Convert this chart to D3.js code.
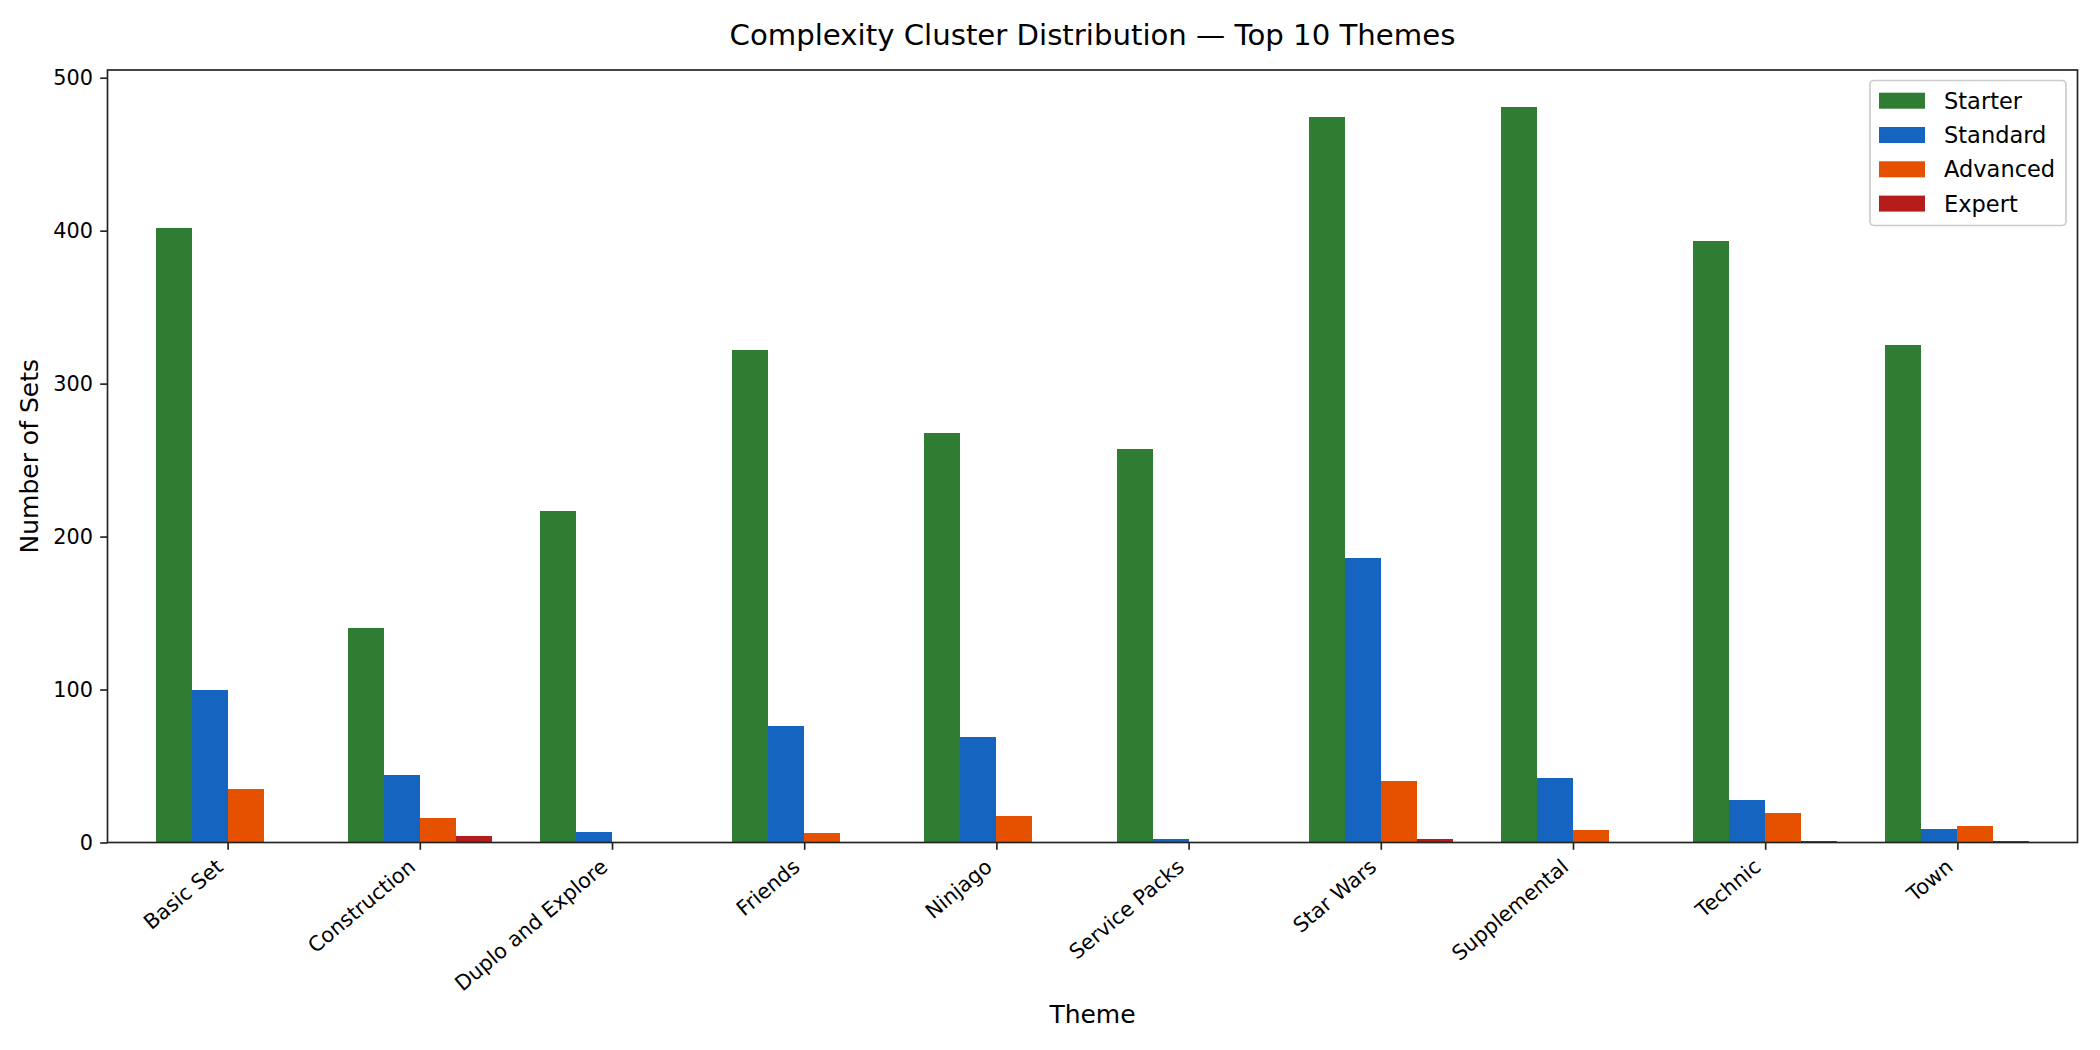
<!DOCTYPE html>
<html lang="en">
<head>
    <meta charset="UTF-8">
    <title>Complexity Cluster Distribution</title>
    <script src="https://d3js.org/d3.v7.min.js"></script>
    <style>
        body { margin: 0; background: #fff; }
        text { font-family: "DejaVu Sans", sans-serif; fill: #000; }
    </style>
</head>
<body>
    <div id="chart"></div>

    <script>
        // Chart data
        const themes = ["Basic Set", "Construction", "Duplo and Explore", "Friends", "Ninjago",
            "Service Packs", "Star Wars", "Supplemental", "Technic", "Town"];
        const clusters = ["Starter", "Standard", "Advanced", "Expert"];
        const starter  = [402, 140, 217, 322, 268, 257, 474, 481, 393, 325];
        const standard = [100, 44, 7, 76, 69, 2, 186, 42, 28, 9];
        const advanced = [35, 16, 0, 6, 17, 0, 40, 8, 19, 11];
        const expert   = [0, 4, 0, 0, 0, 0, 2, 0, 1, 1];
        const yTicks = [0, 100, 200, 300, 400, 500];
        const colors = ["#2e7d32", "#1565c0", "#e65100", "#b71c1c"];

        const series = [starter, standard, advanced, expert];

        const W = 2100, H = 1050;
        const plot = { left: 107.5, right: 2077.5, top: 70, bottom: 842.5 };
        const barW = 0.1875;

        const svg = d3.select("#chart").append("svg")
            .attr("width", W)
            .attr("height", H);

        const x = d3.scaleLinear()
            .domain([-0.625, themes.length - 1 + 0.625])
            .range([plot.left, plot.right]);

        const y = d3.scaleLinear()
            .domain([0, d3.max(starter) * 1.05])
            .range([plot.bottom, plot.top]);

        // bars
        series.forEach((vals, k) => {
            svg.append("g").selectAll("rect")
                .data(vals)
                .enter()
                .append("rect")
                .attr("x", (d, i) => x(i + (k - 2) * barW))
                .attr("y", d => y(d))
                .attr("width", x(barW) - x(0))
                .attr("height", d => y(0) - y(d))
                .attr("fill", colors[k])
                .attr("shape-rendering", "crispEdges");
        });

        // y axis
        const yAxis = svg.append("g")
            .attr("transform", `translate(${plot.left},0)`)
            .call(d3.axisLeft(y).tickValues(yTicks).tickSize(7.3).tickPadding(7.3));
        yAxis.select(".domain").remove();
        yAxis.selectAll(".tick line").attr("stroke", "#222").attr("stroke-width", 1.67);
        yAxis.selectAll(".tick text")
            .style("font-family", "DejaVu Sans")
            .style("font-size", "20.8px")
            .attr("fill", "#000");

        // x axis: ticks, labels rotated
        const xAxis = svg.append("g")
            .attr("transform", `translate(0,${plot.bottom})`)
            .call(d3.axisBottom(x).tickValues(d3.range(themes.length)).tickSize(7.3).tickFormat(""));
        xAxis.select(".domain").remove();
        xAxis.selectAll(".tick line").attr("stroke", "#222").attr("stroke-width", 1.67);

        svg.append("g").selectAll("text")
            .data(themes)
            .enter()
            .append("text")
            .attr("transform", (d, i) => `translate(${x(i) - 3},869) rotate(-40)`)
            .attr("text-anchor", "end")
            .style("font-size", "20.8px")
            .text(d => d);

        // frame
        svg.append("rect")
            .attr("x", plot.left)
            .attr("y", plot.top)
            .attr("width", plot.right - plot.left)
            .attr("height", plot.bottom - plot.top)
            .attr("fill", "none")
            .attr("stroke", "#222")
            .attr("stroke-width", 1.67);

        // titles
        svg.append("text")
            .attr("x", (plot.left + plot.right) / 2)
            .attr("y", 45)
            .attr("text-anchor", "middle")
            .style("font-size", "29.2px")
            .text("Complexity Cluster Distribution \u2014 Top 10 Themes");

        svg.append("text")
            .attr("x", (plot.left + plot.right) / 2)
            .attr("y", 1023)
            .attr("text-anchor", "middle")
            .style("font-size", "25px")
            .text("Theme");

        svg.append("text")
            .attr("transform", `translate(38,${(plot.top + plot.bottom) / 2}) rotate(-90)`)
            .attr("text-anchor", "middle")
            .style("font-size", "25px")
            .text("Number of Sets");

        // legend
        const legend = svg.append("g");
        legend.append("rect")
            .attr("x", 1870)
            .attr("y", 80.5)
            .attr("width", 196)
            .attr("height", 145)
            .attr("rx", 4)
            .attr("fill", "#fff")
            .attr("fill-opacity", 0.8)
            .attr("stroke", "#cccccc")
            .attr("stroke-width", 1.67);

        const rows = legend.selectAll("g.row")
            .data(clusters)
            .enter()
            .append("g")
            .attr("class", "row")
            .attr("transform", (d, i) => `translate(1879,${100.7 + i * 34.3})`);
        rows.append("rect")
            .attr("x", 0)
            .attr("y", -8)
            .attr("width", 46)
            .attr("height", 16)
            .attr("fill", (d, i) => colors[i]);
        rows.append("text")
            .attr("x", 65)
            .attr("y", 0)
            .attr("dy", "0.36em")
            .style("font-size", "22.5px")
            .text(d => d);
    </script>
</body>
</html>
